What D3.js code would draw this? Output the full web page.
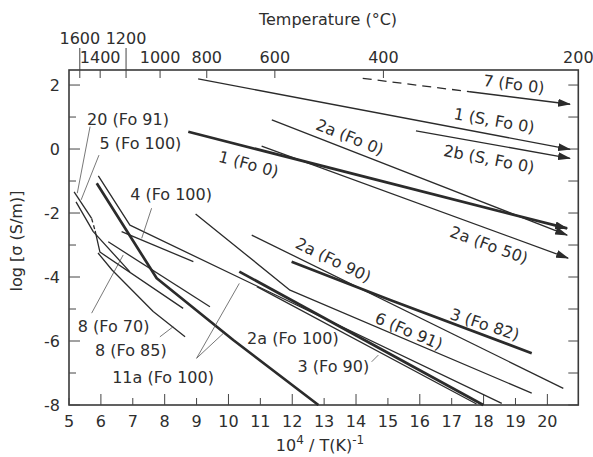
<!doctype html>
<html lang="en">
<head>
<meta charset="UTF-8"/>
<title>olivine conductivity</title>
<script src="https://cdnjs.cloudflare.com/ajax/libs/d3/7.8.5/d3.min.js"></script>
<style>
  body { margin: 0; background: #fff; }
  svg text { font-family: "DejaVu Sans", sans-serif; font-size: 16px; fill: #2e2e2e; }
</style>
</head>
<body>
<svg id="chart" width="593" height="457"></svg>
<script>
// axes: x = 10^4/T(K), y = log sigma (S/m), top axis in deg C
var xTicks = d3.range(5, 21);
var yTicks = d3.range(-8, 3);
var tempTicks = [1600, 1400, 1200, 1000, 800, 600, 400, 200];
var tempUpperRow = [1600, 1200];

// curves, [10^4/T, log sigma]
var line7Dash  = [[14.21, 2.21], [17.57, 1.79]];
var line7      = [[17.57, 1.79], [20.71, 1.40]];
var line1S     = [[9.05, 2.19], [20.71, -0.01]];
var line2bS    = [[15.88, 0.57], [20.71, -0.29]];
var line2aFo0  = [[11.36, 0.91], [20.62, -2.69]];
var line1Fo0   = [[8.74, 0.54], [20.62, -2.48]];
var line2aFo50 = [[11.04, 0.09], [20.65, -3.41]];
var line2aFo90 = [[10.73, -2.69], [20.50, -7.48]];
var line3Fo82  = [[11.98, -3.52], [15.07, -4.72], [19.51, -6.38]];
var line6Fo91  = [[8.97, -2.03], [11.93, -4.41], [19.51, -7.63]];
var line11aThin  = [[5.92, -0.84], [6.91, -2.38], [18.57, -7.95]];
var line11aThick = [[5.87, -1.07], [7.75, -4.04], [10.15, -5.97], [12.82, -8.0]];
var line3Fo90  = [[10.34, -3.83], [17.99, -8.0]];
var line2aFo100 = [[10.89, -4.30], [17.78, -7.97]];
var line4Fo100 = [[6.65, -2.58], [8.90, -3.52]];
var line8Fo70  = [[6.23, -2.90], [9.42, -4.93]];
var line8Fo85  = [[5.91, -3.25], [6.35, -3.78], [7.64, -5.08], [8.64, -5.87]];
var line20a    = [[5.16, -1.34], [5.71, -2.17]];
var line20Dash = [[5.71, -2.17], [5.82, -2.56]];
var line20b    = [[5.82, -2.56], [5.97, -3.22], [8.58, -4.98]];
var line5Fo100 = [[5.22, -1.65], [5.76, -2.58], [6.91, -3.84]];

// labels: text, x, y, angle
var labels = [
  ["7 (Fo 0)", 18.95, 2.03, 7],
  ["1 (S, Fo 0)", 18.33, 0.89, 10],
  ["2b (S, Fo 0)", 18.17, -0.31, 11],
  ["2a (Fo 0)", 13.81, 0.375, 22],
  ["1 (Fo 0)", 10.63, -0.47, 15],
  ["2a (Fo 50)", 18.17, -3.0, 20],
  ["2a (Fo 90)", 13.29, -3.47, 26],
  ["3 (Fo 82)", 18.04, -5.48, 18],
  ["6 (Fo 91)", 15.66, -5.69, 23],
  ["2a (Fo 100)", 12.02, -5.92, 0],
  ["3 (Fo 90)", 13.29, -6.80, 0],
  ["11a (Fo 100)", 7.95, -7.14, 0],
  ["8 (Fo 70)", 6.40, -5.55, 0],
  ["8 (Fo 85)", 6.94, -6.30, 0],
  ["4 (Fo 100)", 8.20, -1.42, 0],
  ["20 (Fo 91)", 6.85, 0.92, 0],
  ["5 (Fo 100)", 7.24, 0.19, 0]
];

// leader lines from labels to curves
var leaders = [
  [[5.66, 0.70], [5.26, -1.38]],
  [[5.94, -0.19], [5.38, -1.59]],
  [[7.59, -1.85], [7.28, -2.79]],
  [[5.71, -5.13], [6.70, -3.31]],
  [[7.85, -5.87], [8.27, -5.55]],
  [[9.00, -6.54], [10.34, -4.20]],
  [[9.00, -6.54], [9.84, -5.76]],
  [[14.49, -6.65], [14.70, -6.44]]
];

var thin = 1.3, thick = 2.7;
var series = [
  {pts: line7Dash, w: thin, dash: "9,6"},
  {pts: line7, w: thin, arrow: true},
  {pts: line1S, w: thin, arrow: true},
  {pts: line2bS, w: thin, arrow: true},
  {pts: line2aFo0, w: thin, arrow: true},
  {pts: line1Fo0, w: thick, arrow: true},
  {pts: line2aFo50, w: thin, arrow: true},
  {pts: line2aFo90, w: thin},
  {pts: line3Fo82, w: thick},
  {pts: line6Fo91, w: thin},
  {pts: line11aThin, w: thin},
  {pts: line11aThick, w: thick},
  {pts: line3Fo90, w: thick},
  {pts: line2aFo100, w: thin},
  {pts: line4Fo100, w: thin},
  {pts: line8Fo70, w: thin},
  {pts: line8Fo85, w: thin},
  {pts: line20a, w: thin},
  {pts: line20Dash, w: thin, dash: "4,3"},
  {pts: line20b, w: thin},
  {pts: line5Fo100, w: thin}
];

var margin = {top: 70, right: 14.7, bottom: 52, left: 69},
    width = 593 - margin.left - margin.right,
    height = 457 - margin.top - margin.bottom;

var svg = d3.select("#chart");
var ink = "#2b2b2b";

svg.append("defs").append("marker")
  .attr("id", "arrow")
  .attr("markerUnits", "userSpaceOnUse")
  .attr("viewBox", "0 0 13 8")
  .attr("refX", 12).attr("refY", 4)
  .attr("markerWidth", 13).attr("markerHeight", 8)
  .attr("orient", "auto")
  .append("path").attr("d", "M0,0 L13,4 L0,8 Z").attr("fill", ink);

var g = svg.append("g").attr("transform", "translate(" + margin.left + "," + margin.top + ")");

var x = d3.scaleLinear().domain([5, 20.97]).range([0, width]);
var y = d3.scaleLinear().domain([-8, 2.47]).range([height, 0]);
var tx = function(t) { return x(1e4 / (t + 273)); };

// frame
g.append("rect").attr("width", width).attr("height", height)
  .attr("fill", "none").attr("stroke", "#3a3a3a").attr("stroke-width", 1.6);

// bottom ticks
xTicks.forEach(function(v) {
  var len = v % 2 === 0 ? 11 : 7;
  g.append("line").attr("x1", x(v)).attr("x2", x(v))
    .attr("y1", height).attr("y2", height - len)
    .attr("stroke", "#444").attr("stroke-width", 1);
  g.append("text").attr("x", x(v)).attr("y", height + 22)
    .attr("text-anchor", "middle").text(v);
});

// left and right ticks
yTicks.forEach(function(v) {
  var len = v % 2 === 0 ? 11 : 7;
  g.append("line").attr("x1", 0).attr("x2", len)
    .attr("y1", y(v)).attr("y2", y(v))
    .attr("stroke", "#444").attr("stroke-width", 1);
  g.append("line").attr("x1", width).attr("x2", width - 10)
    .attr("y1", y(v)).attr("y2", y(v))
    .attr("stroke", "#444").attr("stroke-width", 1);
  if (v % 2 === 0) {
    g.append("text").attr("x", -9).attr("y", y(v)).attr("dy", "0.35em")
      .attr("text-anchor", "end").text(v);
  }
});

// top temperature ticks
tempTicks.forEach(function(t) {
  var px = tx(t);
  var upper = tempUpperRow.indexOf(t) >= 0;
  if (px <= width) {
    g.append("line").attr("x1", px).attr("x2", px)
      .attr("y1", upper ? -22 : 0).attr("y2", 8)
      .attr("stroke", "#444").attr("stroke-width", 1);
  }
  g.append("text").attr("x", Math.min(px, width)).attr("y", upper ? -26 : -7)
    .attr("text-anchor", "middle").text(t);
});

// curves
var line = d3.line().x(function(d) { return x(d[0]); }).y(function(d) { return y(d[1]); });
series.forEach(function(s) {
  var p = g.append("path").attr("d", line(s.pts))
    .attr("fill", "none").attr("stroke", ink)
    .attr("stroke-width", s.w).attr("stroke-linejoin", "round");
  if (s.dash) p.attr("stroke-dasharray", s.dash);
  if (s.arrow) p.attr("marker-end", "url(#arrow)");
});

// leaders
leaders.forEach(function(l) {
  g.append("path").attr("d", line(l)).attr("fill", "none")
    .attr("stroke", "#555").attr("stroke-width", 0.8);
});

// curve labels
labels.forEach(function(l) {
  g.append("text")
    .attr("transform", "translate(" + x(l[1]) + "," + y(l[2]) + ") rotate(" + l[3] + ")")
    .attr("text-anchor", "middle").attr("dy", "0.35em")
    .text(l[0]);
});

// titles
svg.append("text").attr("x", 328).attr("y", 25).attr("text-anchor", "middle")
  .attr("font-size", "16.5px")
  .text("Temperature (°C)");

var xt = svg.append("text").attr("x", 320).attr("y", 451).attr("text-anchor", "middle");
xt.append("tspan").text("10");
xt.append("tspan").attr("dy", -7).attr("font-size", "12px").text("4");
xt.append("tspan").attr("dy", 7).text(" / T(K)");
xt.append("tspan").attr("dy", -7).attr("font-size", "12px").text("-1");

svg.append("text").attr("transform", "translate(22,241) rotate(-90)")
  .attr("text-anchor", "middle").text("log [σ (S/m)]");
</script>
</body>
</html>
